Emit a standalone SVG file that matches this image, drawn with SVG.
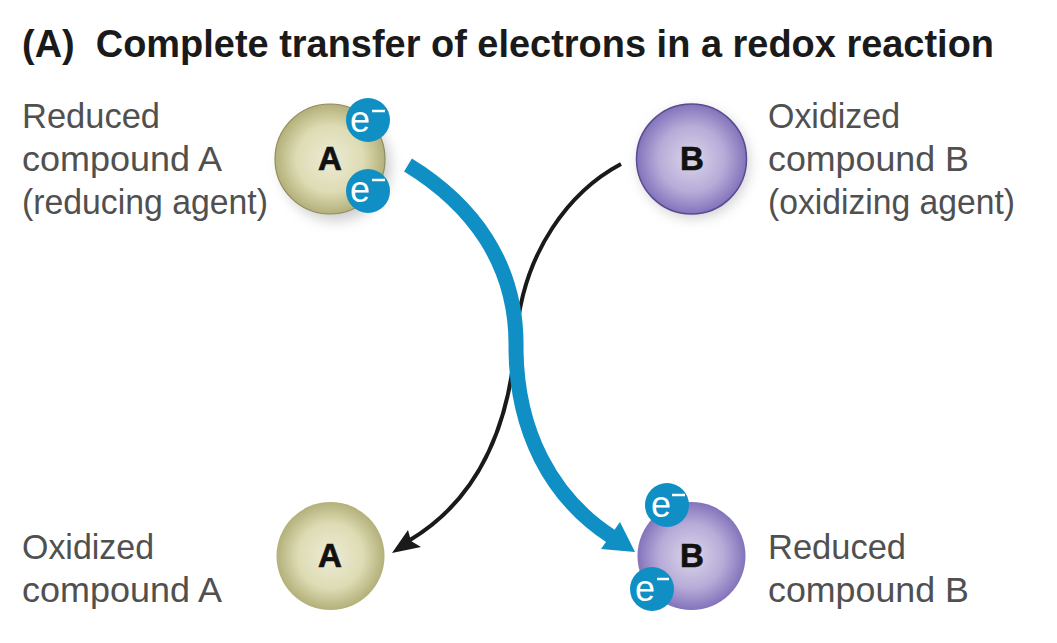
<svg xmlns="http://www.w3.org/2000/svg" width="1057" height="643" viewBox="0 0 1057 643">
<defs>
<radialGradient id="ga" cx="50%" cy="50%" r="50%"><stop offset="0" stop-color="#ecebd6"/><stop offset="0.6" stop-color="#dedcb4"/><stop offset="1" stop-color="#b3b07a"/></radialGradient>
<radialGradient id="gb" cx="50%" cy="50%" r="50%"><stop offset="0" stop-color="#dbd6ea"/><stop offset="0.6" stop-color="#b7abd8"/><stop offset="1" stop-color="#8373bb"/></radialGradient>
<filter id="sh" x="-30%" y="-30%" width="170%" height="170%"><feGaussianBlur stdDeviation="7"/></filter>
</defs>
<style>
text{font-family:"Liberation Sans",Arial,sans-serif}
.t{font-size:38px;font-weight:700;fill:#1a1a1a}
.l{font-size:35px;fill:#505050}
.n{font-size:33px;font-weight:700;fill:#111;stroke:#111;stroke-width:.7;text-anchor:middle}
.e{fill:#0f8fc4}
.et{font-size:36px;fill:#fff;text-anchor:middle}
.em{stroke:#fff;stroke-width:2.5}
.sh{fill:#666;opacity:.35;filter:url(#sh)}
</style>
<rect width="1057" height="643" fill="#fff"/>
<text class="t" x="22" y="57" xml:space="preserve" textLength="972" lengthAdjust="spacingAndGlyphs">(A)  Complete transfer of electrons in a redox reaction</text>
<g id="label-reduced-a"><text class="l" x="22" y="128" textLength="138" lengthAdjust="spacingAndGlyphs">Reduced</text><text class="l" x="22" y="171" textLength="200" lengthAdjust="spacingAndGlyphs">compound A</text><text class="l" x="22" y="214" textLength="246" lengthAdjust="spacingAndGlyphs">(reducing agent)</text></g>
<g id="label-oxidized-b"><text class="l" x="768" y="128" textLength="132" lengthAdjust="spacingAndGlyphs">Oxidized</text><text class="l" x="768" y="171" textLength="201" lengthAdjust="spacingAndGlyphs">compound B</text><text class="l" x="768" y="214" textLength="247" lengthAdjust="spacingAndGlyphs">(oxidizing agent)</text></g>
<g id="label-oxidized-a"><text class="l" x="22" y="559" textLength="132" lengthAdjust="spacingAndGlyphs">Oxidized</text><text class="l" x="22" y="602" textLength="200" lengthAdjust="spacingAndGlyphs">compound A</text></g>
<g id="label-reduced-b"><text class="l" x="768" y="559" textLength="138" lengthAdjust="spacingAndGlyphs">Reduced</text><text class="l" x="768" y="602" textLength="201" lengthAdjust="spacingAndGlyphs">compound B</text></g>
<g id="node-a-top"><circle class="sh" cx="336" cy="166" r="54"/><circle cx="330" cy="159" r="55" fill="url(#ga)" stroke="#8f8d5e" stroke-width="1.2"/><text class="n" x="330" y="170">A</text>
<circle class="e" cx="368" cy="120" r="22"/><text class="et" x="360" y="132">e</text><line class="em" x1="372" y1="111" x2="385" y2="111"/>
<circle class="e" cx="368" cy="191" r="22"/><text class="et" x="360" y="202">e</text><line class="em" x1="372" y1="180" x2="385" y2="180"/></g>
<g id="node-b-top"><circle class="sh" cx="694" cy="163" r="54"/><circle cx="691.500" cy="159" r="55" fill="url(#gb)" stroke="#5a4a92" stroke-width="1.5"/><text class="n" x="692" y="170">B</text></g>
<g id="node-a-bottom"><circle cx="330.500" cy="556" r="54" fill="url(#ga)"/><text class="n" x="330" y="567">A</text></g>
<g id="node-b-bottom"><circle cx="691.500" cy="556" r="54" fill="url(#gb)"/><text class="n" x="692" y="567">B</text>
<circle class="e" cx="667" cy="505" r="22"/><text class="et" x="661" y="517">e</text><line class="em" x1="672" y1="495" x2="685" y2="495"/>
<circle class="e" cx="652" cy="589" r="22"/><text class="et" x="645" y="601">e</text><line class="em" x1="657" y1="579" x2="669" y2="579"/></g>
<g id="connectors">
<path d="M621 164C572 190 522 250 516 340C510 415 485 495 410 540" fill="none" stroke="#1a1a1a" stroke-width="4"/>
<path d="M392 553L408 530L411 541L421 547Z" fill="#1a1a1a"/>
<path d="M408 165C470 203 518 262 516 350C517 430 550 497 612 537" fill="none" stroke="#0f8fc4" stroke-width="15"/>
<path d="M635 552L620 522L601 549Z" fill="#0f8fc4"/>
</g>
</svg>
